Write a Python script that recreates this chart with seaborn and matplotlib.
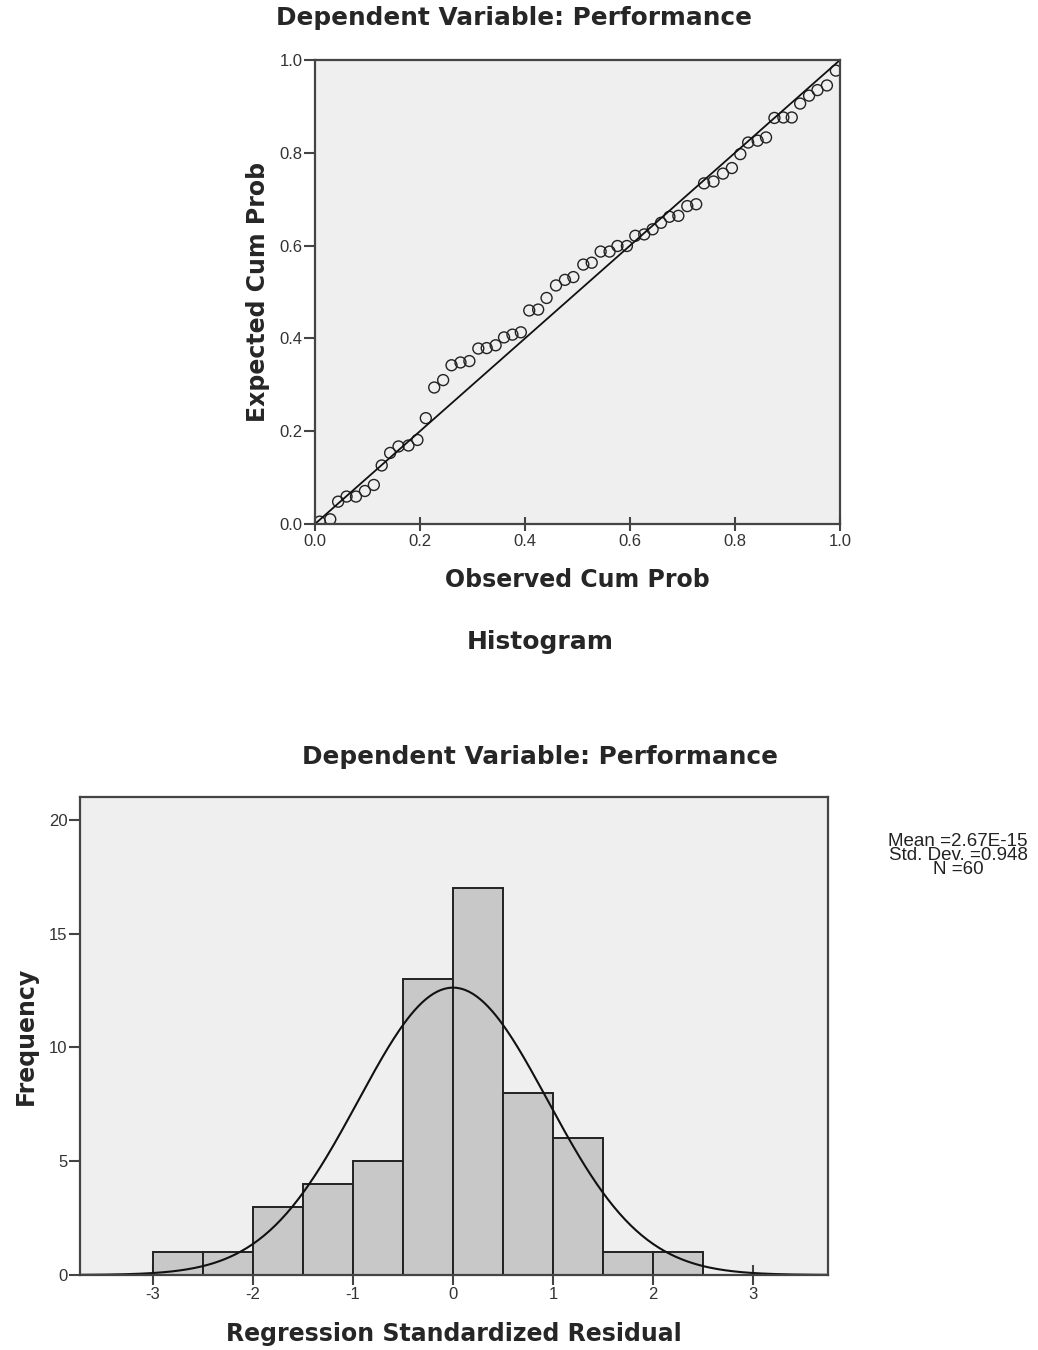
import numpy as np
import pandas as pd
import matplotlib
matplotlib.use("Agg")
import matplotlib.pyplot as plt
import seaborn as sns

# P-P plot data
observed_cum_prob = [
    0.009, 0.029, 0.044, 0.060, 0.078, 0.095, 0.112, 0.127, 0.143, 0.159,
    0.178, 0.195, 0.211, 0.227, 0.244, 0.260, 0.277, 0.294, 0.311, 0.327,
    0.344, 0.360, 0.376, 0.392, 0.408, 0.425, 0.441, 0.459, 0.476, 0.492,
    0.511, 0.527, 0.544, 0.561, 0.576, 0.594, 0.610, 0.627, 0.643, 0.659,
    0.675, 0.692, 0.709, 0.726, 0.741, 0.759, 0.777, 0.794, 0.810, 0.825,
    0.843, 0.859, 0.875, 0.892, 0.908, 0.924, 0.941, 0.957, 0.975, 0.992,
]
expected_cum_prob = [
    0.005, 0.010, 0.048, 0.059, 0.059, 0.071, 0.084, 0.126, 0.153, 0.167,
    0.169, 0.181, 0.228, 0.294, 0.310, 0.342, 0.348, 0.351, 0.378, 0.379,
    0.385, 0.402, 0.408, 0.413, 0.460, 0.462, 0.487, 0.514, 0.526, 0.532,
    0.559, 0.563, 0.587, 0.587, 0.599, 0.599, 0.621, 0.624, 0.635, 0.649,
    0.662, 0.664, 0.685, 0.689, 0.734, 0.738, 0.755, 0.767, 0.797, 0.822,
    0.826, 0.833, 0.875, 0.876, 0.876, 0.906, 0.923, 0.935, 0.945, 0.977,
]
ref_line = [0.0, 1.0]
pp_ticks = [0.0, 0.2, 0.4, 0.6, 0.8, 1.0]

# histogram data
bin_edges = [-3.0, -2.5, -2.0, -1.5, -1.0, -0.5, 0.0, 0.5, 1.0, 1.5, 2.0, 2.5]
bin_counts = [1, 1, 3, 4, 5, 13, 17, 8, 6, 1, 1]
resid_mean = 2.67e-15
resid_sd = 0.948
n_cases = 60

sns.set_style("white")
plt.rcParams["font.family"] = ["Liberation Sans", "DejaVu Sans"]
plt.rcParams["axes.unicode_minus"] = False

face = "#efefef"
spine_col = "#444444"
tick_col = "#333333"
bold_font = "DejaVu Sans"   # wider bold, closer to the SPSS rendering
lab_size = 17
title_size = 17.8

fig = plt.figure(figsize=(10.38, 13.5), dpi=100)

# ---- P-P plot ----
ax1 = fig.add_axes([0.3035, 0.6119, 0.5058, 0.3437])
ax1.set_facecolor(face)
pp = pd.DataFrame({"obs": observed_cum_prob, "exp": expected_cum_prob})
sns.lineplot(x=ref_line, y=ref_line, ax=ax1, color="#111111", lw=1.3)
sns.scatterplot(data=pp, x="obs", y="exp", ax=ax1, marker="o", s=62,
                facecolors="none", edgecolor="#222222", linewidth=1.0)
ax1.set_xlim(0, 1)
ax1.set_ylim(0, 1)
ax1.set_xticks(pp_ticks)
ax1.set_yticks(pp_ticks)
ax1.set_xticklabels([f"{t:.1f}" for t in pp_ticks])
ax1.set_yticklabels([f"{t:.1f}" for t in pp_ticks])
ax1.tick_params(axis="x", bottom=True, direction="inout", length=10, width=1.5,
                color=spine_col, labelsize=12, labelcolor=tick_col, pad=2)
ax1.tick_params(axis="y", left=True, direction="out", length=8, width=1.5,
                color=spine_col, labelsize=12, labelcolor=tick_col, pad=1)
ax1.set_xlabel("Observed Cum Prob", fontsize=lab_size, fontweight="bold",
               family=bold_font, labelpad=14)
ax1.set_ylabel("Expected Cum Prob", fontsize=lab_size, fontweight="bold",
               family=bold_font, labelpad=7)
for sp in ax1.spines.values():
    sp.set_color(spine_col)
    sp.set_linewidth(1.6)

fig.text(0.495, 0.9867, "Dependent Variable: Performance", ha="center",
         va="center", fontsize=title_size, fontweight="bold", family=bold_font)
fig.text(0.520, 0.5244, "Histogram", ha="center", va="center",
         fontsize=18, fontweight="bold", family=bold_font)
fig.text(0.520, 0.4393, "Dependent Variable: Performance", ha="center",
         va="center", fontsize=title_size, fontweight="bold", family=bold_font)

# ---- histogram ----
ax2 = fig.add_axes([0.0771, 0.0556, 0.7206, 0.354])
ax2.set_facecolor(face)
centers = [(a + b) / 2 for a, b in zip(bin_edges[:-1], bin_edges[1:])]
sns.histplot(x=centers, weights=bin_counts, bins=bin_edges, ax=ax2,
             color="#c8c8c8", alpha=1, edgecolor="#222222", linewidth=1.4)

# normal curve from the stats shown in the box
xs = np.linspace(-3.75, 3.75, 400)
bw = bin_edges[1] - bin_edges[0]
curve = n_cases * bw * np.exp(-0.5 * ((xs - resid_mean) / resid_sd) ** 2) / (resid_sd * np.sqrt(2 * np.pi))
sns.lineplot(x=xs, y=curve, ax=ax2, color="#111111", lw=1.5)

ax2.set_xlim(-3.73, 3.75)
ax2.set_ylim(0, 21)
ax2.set_xticks([-3, -2, -1, 0, 1, 2, 3])
ax2.set_yticks([0, 5, 10, 15, 20])
ax2.tick_params(axis="x", bottom=True, direction="inout", length=14, width=1.5,
                color=spine_col, labelsize=12, labelcolor=tick_col, pad=2)
ax2.tick_params(axis="y", left=True, direction="out", length=8, width=1.5,
                color=spine_col, labelsize=12, labelcolor=tick_col, pad=1)
ax2.set_xlabel("Regression Standardized Residual", fontsize=lab_size,
               fontweight="bold", family=bold_font, labelpad=14)
ax2.set_ylabel("Frequency", fontsize=lab_size, fontweight="bold",
               family=bold_font, labelpad=8)
for sp in ax2.spines.values():
    sp.set_color(spine_col)
    sp.set_linewidth(1.6)

stats_txt = f"Mean ={resid_mean:.2E}\nStd. Dev. =0.948\nN ={n_cases}"
fig.text(0.923, 0.3665, stats_txt, ha="center", va="center",
         fontsize=13.5, linespacing=0.78, color="#222222")

fig.savefig("out.png", dpi=100)
